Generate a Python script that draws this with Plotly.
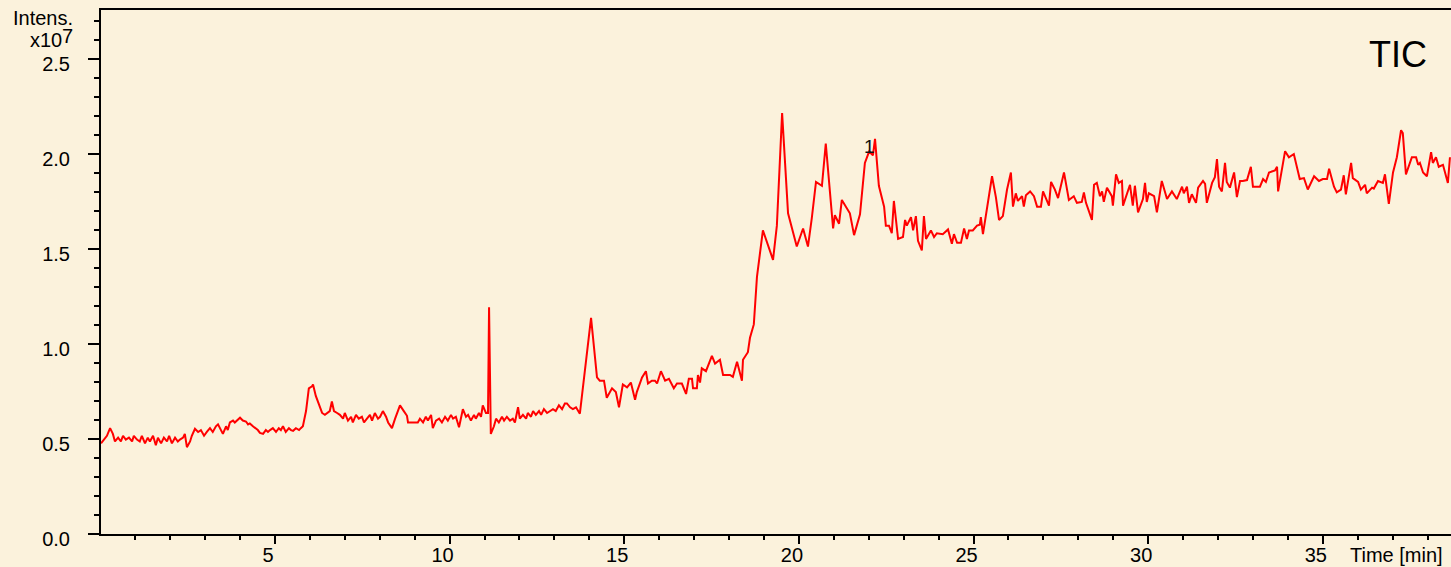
import plotly.graph_objects as go

# Retention time [min] and TIC intensity [x10^7]
time_min = [
    0.02, 0.10, 0.19, 0.28, 0.36, 0.42, 0.51, 0.59, 0.65, 0.73, 0.82, 0.91, 0.96, 1.05, 1.13, 1.19,
    1.28, 1.36, 1.42, 1.51, 1.59, 1.65, 1.74, 1.82, 1.91, 1.97, 2.05, 2.14, 2.22, 2.28, 2.37, 2.42,
    2.48, 2.57, 2.62, 2.71, 2.80, 2.88, 2.97, 3.05, 3.14, 3.22, 3.31, 3.37, 3.45, 3.51, 3.60, 3.65,
    3.71, 3.80, 3.85, 3.91, 4.00, 4.08, 4.17, 4.23, 4.28, 4.37, 4.46, 4.51, 4.57, 4.66, 4.74, 4.80,
    4.86, 4.94, 5.03, 5.11, 5.17, 5.23, 5.31, 5.40, 5.46, 5.52, 5.60, 5.69, 5.74, 5.80, 5.89, 5.97,
    6.06, 6.09, 6.17, 6.26, 6.35, 6.43, 6.52, 6.57, 6.63, 6.69, 6.78, 6.86, 6.95, 7.00, 7.09, 7.18,
    7.23, 7.32, 7.40, 7.49, 7.55, 7.63, 7.72, 7.78, 7.86, 7.95, 8.01, 8.09, 8.18, 8.24, 8.35, 8.44,
    8.52, 8.58, 8.69, 8.78, 8.81, 9.09, 9.15, 9.24, 9.32, 9.38, 9.47, 9.52, 9.61, 9.70, 9.78, 9.87,
    9.95, 10.04, 10.10, 10.18, 10.27, 10.32, 10.38, 10.47, 10.53, 10.61, 10.70, 10.75, 10.84, 10.90, 10.95, 11.04,
    11.10, 11.13, 11.18, 11.27, 11.33, 11.41, 11.50, 11.56, 11.64, 11.73, 11.81, 11.87, 11.96, 12.01, 12.10, 12.19,
    12.24, 12.33, 12.39, 12.47, 12.56, 12.62, 12.70, 12.79, 12.87, 12.96, 13.04, 13.13, 13.22, 13.30, 13.36, 13.45,
    13.53, 13.62, 13.73, 14.05, 14.22, 14.30, 14.42, 14.50, 14.65, 14.76, 14.85, 14.96, 15.08, 15.19, 15.31, 15.36,
    15.51, 15.62, 15.68, 15.79, 15.88, 15.94, 16.05, 16.17, 16.28, 16.42, 16.51, 16.65, 16.77, 16.85, 16.94, 16.97,
    17.08, 17.11, 17.17, 17.22, 17.34, 17.51, 17.60, 17.74, 17.83, 18.03, 18.11, 18.23, 18.37, 18.40, 18.54, 18.60,
    18.71, 18.80, 18.97, 19.11, 19.26, 19.37, 19.52, 19.69, 19.94, 20.12, 20.26, 20.37, 20.49, 20.66, 20.77, 20.98,
    21.03, 21.15, 21.23, 21.46, 21.58, 21.75, 21.89, 22.01, 22.12, 22.18, 22.29, 22.44, 22.49, 22.58, 22.66, 22.72,
    22.84, 22.98, 23.04, 23.09, 23.21, 23.27, 23.35, 23.41, 23.52, 23.58, 23.64, 23.78, 23.87, 23.95, 24.12, 24.27,
    24.38, 24.44, 24.53, 24.64, 24.73, 24.81, 24.87, 24.98, 25.10, 25.18, 25.21, 25.27, 25.53, 25.64, 25.73, 25.84,
    25.96, 26.07, 26.13, 26.21, 26.27, 26.39, 26.44, 26.50, 26.62, 26.73, 26.82, 26.93, 26.99, 27.16, 27.22, 27.33,
    27.42, 27.59, 27.73, 27.87, 27.96, 28.10, 28.16, 28.22, 28.39, 28.45, 28.53, 28.62, 28.68, 28.73, 28.82, 28.96,
    28.99, 29.08, 29.16, 29.25, 29.28, 29.48, 29.56, 29.62, 29.71, 29.85, 29.91, 29.96, 30.02, 30.17, 30.25, 30.39,
    30.54, 30.68, 30.82, 30.97, 31.02, 31.11, 31.17, 31.25, 31.37, 31.43, 31.57, 31.63, 31.68, 31.83, 31.91, 31.97,
    32.03, 32.11, 32.20, 32.25, 32.34, 32.46, 32.54, 32.63, 32.71, 32.83, 32.94, 33.00, 33.20, 33.29, 33.37, 33.46,
    33.63, 33.69, 33.72, 33.92, 34.03, 34.17, 34.34, 34.46, 34.57, 34.75, 34.89, 35.00, 35.12, 35.18, 35.32, 35.40,
    35.52, 35.60, 35.66, 35.81, 35.86, 36.01, 36.09, 36.21, 36.26, 36.41, 36.46, 36.58, 36.72, 36.78, 36.89, 37.01,
    37.12, 37.24, 37.29, 37.38, 37.55, 37.67, 37.73, 37.78, 37.87, 37.98, 38.10, 38.15, 38.24, 38.32, 38.44, 38.58,
    38.64,
]

intensity = [
    0.477, 0.497, 0.517, 0.557, 0.527, 0.487, 0.507, 0.487, 0.517, 0.497, 0.507, 0.487, 0.517, 0.497, 0.487, 0.517,
    0.477, 0.507, 0.487, 0.517, 0.467, 0.507, 0.477, 0.507, 0.487, 0.517, 0.477, 0.507, 0.487, 0.497, 0.507, 0.527,
    0.457, 0.487, 0.517, 0.554, 0.537, 0.547, 0.517, 0.537, 0.557, 0.537, 0.567, 0.577, 0.547, 0.527, 0.567, 0.547,
    0.587, 0.597, 0.587, 0.597, 0.612, 0.597, 0.592, 0.577, 0.582, 0.567, 0.557, 0.547, 0.532, 0.527, 0.547, 0.537,
    0.547, 0.557, 0.537, 0.557, 0.547, 0.567, 0.537, 0.557, 0.547, 0.543, 0.557, 0.547, 0.557, 0.567, 0.647, 0.767,
    0.777, 0.787, 0.727, 0.687, 0.637, 0.627, 0.637, 0.647, 0.697, 0.647, 0.637, 0.627, 0.607, 0.637, 0.597, 0.617,
    0.587, 0.627, 0.607, 0.617, 0.587, 0.607, 0.627, 0.597, 0.637, 0.607, 0.617, 0.647, 0.617, 0.587, 0.557, 0.607,
    0.647, 0.677, 0.647, 0.622, 0.587, 0.587, 0.607, 0.587, 0.617, 0.597, 0.627, 0.557, 0.597, 0.607, 0.587, 0.617,
    0.597, 0.627, 0.607, 0.617, 0.562, 0.607, 0.657, 0.617, 0.627, 0.597, 0.627, 0.607, 0.637, 0.617, 0.677, 0.637,
    0.637, 1.193, 0.527, 0.567, 0.607, 0.587, 0.617, 0.597, 0.617, 0.597, 0.607, 0.587, 0.667, 0.607, 0.627, 0.607,
    0.637, 0.617, 0.647, 0.627, 0.647, 0.627, 0.657, 0.637, 0.647, 0.657, 0.647, 0.677, 0.657, 0.687, 0.687, 0.667,
    0.657, 0.667, 0.633, 1.138, 0.824, 0.807, 0.807, 0.717, 0.767, 0.747, 0.667, 0.787, 0.772, 0.797, 0.707, 0.747,
    0.824, 0.857, 0.792, 0.807, 0.807, 0.792, 0.857, 0.807, 0.817, 0.767, 0.792, 0.792, 0.737, 0.817, 0.817, 0.767,
    0.767, 0.837, 0.797, 0.872, 0.857, 0.937, 0.897, 0.917, 0.837, 0.837, 0.827, 0.907, 0.807, 0.917, 0.957, 1.033,
    1.103, 1.353, 1.598, 1.528, 1.443, 1.623, 2.215, 1.688, 1.513, 1.608, 1.513, 1.663, 1.853, 1.833, 2.055, 1.608,
    1.678, 1.633, 1.758, 1.688, 1.573, 1.683, 1.953, 2.013, 1.993, 2.080, 1.833, 1.723, 1.623, 1.623, 1.583, 1.753,
    1.553, 1.563, 1.653, 1.623, 1.668, 1.598, 1.673, 1.543, 1.493, 1.673, 1.553, 1.598, 1.563, 1.583, 1.578, 1.603,
    1.528, 1.578, 1.533, 1.533, 1.608, 1.553, 1.598, 1.598, 1.623, 1.628, 1.668, 1.578, 1.883, 1.773, 1.653, 1.673,
    1.813, 1.903, 1.723, 1.793, 1.753, 1.778, 1.723, 1.783, 1.803, 1.778, 1.723, 1.723, 1.803, 1.728, 1.853, 1.813,
    1.768, 1.903, 1.758, 1.778, 1.743, 1.748, 1.798, 1.743, 1.653, 1.838, 1.848, 1.778, 1.803, 1.748, 1.823, 1.778,
    1.728, 1.893, 1.848, 1.858, 1.728, 1.838, 1.728, 1.833, 1.693, 1.763, 1.848, 1.748, 1.793, 1.778, 1.693, 1.858,
    1.763, 1.803, 1.763, 1.828, 1.793, 1.828, 1.743, 1.788, 1.743, 1.823, 1.858, 1.843, 1.743, 1.848, 1.878, 1.973,
    1.828, 1.803, 1.953, 1.853, 1.823, 1.903, 1.773, 1.858, 1.858, 1.863, 1.933, 1.828, 1.828, 1.868, 1.853, 1.903,
    1.913, 1.933, 1.803, 2.015, 1.983, 2.000, 1.868, 1.873, 1.813, 1.883, 1.858, 1.868, 1.868, 1.923, 1.828, 1.798,
    1.813, 1.888, 1.788, 1.953, 1.873, 1.853, 1.813, 1.838, 1.793, 1.823, 1.818, 1.858, 1.848, 1.893, 1.738, 1.903,
    1.983, 2.125, 2.110, 1.893, 1.983, 1.983, 1.943, 1.953, 1.903, 1.883, 2.010, 1.953, 1.983, 1.933, 1.943, 1.848,
    1.983,
]

x_ticks = [5, 10, 15, 20, 25, 30, 35]
y_ticks = [0.0, 0.5, 1.0, 1.5, 2.0, 2.5]
peak_label = "1"
peak_time = 22.03
peak_y = 2.04

FONT = "Liberation Sans, Arial, sans-serif"
BG = "#FBF2DC"

fig = go.Figure()
fig.add_trace(go.Scatter(
    x=time_min, y=intensity, mode="lines",
    line=dict(color="#FF0000", width=2),
    hoverinfo="skip", showlegend=False,
))

fig.update_layout(
    width=1451, height=567,
    margin=dict(l=101, r=0, t=10, b=33, autoexpand=False),
    paper_bgcolor=BG, plot_bgcolor=BG,
    font=dict(family=FONT, size=20, color="black"),
    showlegend=False,
)

fig.update_xaxes(
    range=[0.02, 38.67], showgrid=False, zeroline=False, automargin=False,
    showline=True, linecolor="black", linewidth=2, mirror=True,
    tickvals=x_ticks, ticktext=[str(v) for v in x_ticks],
    ticks="outside", ticklen=8, tickwidth=1.5, tickcolor="black",
    ticklabelshift=-7, ticklabelstandoff=-6,
    tickfont=dict(family=FONT, size=20, color="black"),
    minor=dict(dtick=1, ticks="outside", ticklen=4, tickwidth=1.5, tickcolor="black", showgrid=False),
)

fig.update_yaxes(
    range=[0, 2.758], showgrid=False, zeroline=False, automargin=False,
    showline=True, linecolor="black", linewidth=2,
    tickvals=y_ticks, ticktext=["%.1f" % v for v in y_ticks],
    ticks="outside", ticklen=11, tickwidth=1.5, tickcolor="black",
    ticklabelshift=5, ticklabelstandoff=14,
    tickfont=dict(family=FONT, size=20, color="black"),
    minor=dict(dtick=0.1, ticks="outside", ticklen=5, tickwidth=1.5, tickcolor="black", showgrid=False),
)

annos = [
    dict(text="Intens.", xref="paper", yref="paper", x=0, y=1, xshift=-27, yshift=-8,
         xanchor="right", yanchor="middle", showarrow=False, borderpad=0, font=dict(size=20)),
    dict(text="x10", xref="paper", yref="paper", x=0, y=1, xshift=-38, yshift=-30,
         xanchor="right", yanchor="middle", showarrow=False, borderpad=0, font=dict(size=20)),
    dict(text="7", xref="paper", yref="paper", x=0, y=1, xshift=-27, yshift=-26,
         xanchor="right", yanchor="middle", showarrow=False, borderpad=0, font=dict(size=20)),
    dict(text="TIC", xref="paper", yref="paper", x=1, y=1, xshift=-22, yshift=-44,
         xanchor="right", yanchor="middle", showarrow=False, font=dict(size=36)),
    dict(text="Time [min]", xref="paper", yref="paper", x=1, y=0, xshift=-6, yshift=-21,
         xanchor="right", yanchor="middle", showarrow=False, font=dict(size=20)),
    dict(text=peak_label, x=peak_time, y=peak_y, xref="x", yref="y",
         xanchor="center", yanchor="middle", showarrow=False,
         font=dict(size=19, color="#111111")),
]
fig.update_layout(annotations=annos)

page_js = (
    "document.documentElement.style.margin='0';"
    "document.body.style.margin='0';"
    "document.body.style.padding='0';"
    "document.body.style.background='" + BG + "';"
    "document.documentElement.style.overflow='hidden';"
)
fig.write_html("out.html", post_script=page_js, config={"displayModeBar": False})
